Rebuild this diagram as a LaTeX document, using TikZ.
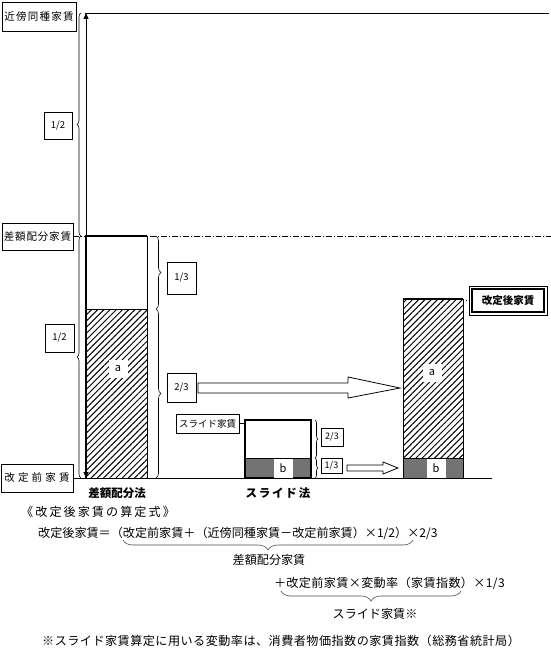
\documentclass[tikz,border=0pt]{standalone}
\usepackage{fontspec}
\setmainfont{Noto Sans CJK JP}
\usetikzlibrary{patterns.meta,decorations.pathreplacing,arrows.meta,calc}
\newcommand\lsp[2]{{\addfontfeatures{LetterSpace=#1}#2}}
\begin{document}
\begin{tikzpicture}[x=1pt,y=-1pt,
  box/.style={draw,line width=0.8pt,inner sep=0pt,font=\fontsize{10.5}{12}\selectfont},
  fr/.style={draw,line width=0.8pt,inner sep=0pt,font=\fontsize{9.5}{11}\selectfont},
  hatch/.style={pattern={Lines[angle=45,distance=4.4pt,line width=1pt]}},
  dither/.style={fill=black!55},
  lab/.style={fill=white,inner sep=0pt,minimum width=19pt,minimum height=18pt,font=\fontsize{11}{12}\selectfont},
  brc/.style={decorate,decoration={brace,amplitude=#1},line width=0.6pt},
  brc/.default=5pt,
  txt/.style={font=\fontsize{12.1}{14}\selectfont,inner sep=0pt},
  bold/.style={font=\fontsize{11.5}{13}\selectfont\bfseries,inner sep=0pt},
  hollow/.style={draw,line width=0.8pt,fill=white},
]
\useasboundingbox (0,0) rectangle (551,650);
\fill[white] (0,0) rectangle (551,650);

% left labels
\node[box,minimum width=74pt,minimum height=29pt] (kinbo) at (39,16.5) {\lsp{12}{近傍同種家賃}};
\node[box,minimum width=71pt,minimum height=27pt] (sagaku) at (37.5,236.5) {\lsp{8}{差額配分家賃}};
\node[box,minimum width=72pt,minimum height=28pt] (kaitei) at (37,478) {\lsp{30}{改定前家賃}};

% reference lines
\coordinate (tl) at (85,13);
\coordinate (tr) at (549,13);
\draw[line width=0.8pt] (tl) -- (tr);
\coordinate (dr) at (551,236.5);
\draw[line width=0.6pt,dash pattern=on 6pt off 2pt on 1pt off 2pt] (sagaku.east) -- (dr);
\coordinate (br) at (492,478);
\draw[line width=0.8pt] (kaitei.east) -- (br);

% vertical double arrow
\coordinate (vt) at (86,13);
\coordinate (vb) at (86,478);
\draw[line width=0.8pt,{Triangle[length=6pt,width=5pt]}-{Triangle[length=6pt,width=5pt]}] (vt) -- (vb);

% left braces and 1/2 boxes
\draw[brc=4pt] (81,236) -- (81,13);
\draw[brc=4pt] (81,478) -- (81,236);
\node[fr,minimum width=28pt,minimum height=27pt] (h1) at (58,125.5) {1/2};
\node[fr,minimum width=29pt,minimum height=28pt] (h2) at (59.5,338) {1/2};

% bar 1 (差額配分法)
\draw[line width=0.8pt,hatch] (86,309) rectangle (147,478);
\draw[line width=0.8pt] (86,236) rectangle (147,309);
\draw[line width=2pt] (86,478) -- (86,236) -- (147,236);
\node[lab] (a1) at (118,369) {a};

% braces right of bar 1
\draw[brc=5pt] (156,236) -- (156,309);
\draw[brc=5pt] (156,309) -- (156,478);
\node[fr,minimum width=29pt,minimum height=32pt] (t1) at (181.5,278) {1/3};
\node[fr,minimum width=29pt,minimum height=29pt] (t2) at (181.5,387.5) {2/3};

% big hollow arrow
\coordinate (A1s) at (198,388);
\coordinate (A1e) at (400,388);
\draw[hollow] ($(A1s)+(0,-5)$) -- ($(A1e)+(-52,-5)$) -- ($(A1e)+(-52,-11)$) -- (A1e)
  -- ($(A1e)+(-52,10)$) -- ($(A1e)+(-52,5)$) -- ($(A1s)+(0,5)$) -- cycle;

% bar 2 (スライド法)
\draw[dither] (245,458) rectangle (311,478);
\draw[line width=0.8pt] (245,458) -- (311,458);
\draw[line width=1.6pt] (245,478) rectangle (311,420);
\node[lab,minimum height=19pt,minimum width=19pt] (b2) at (283,468) {b};
\node[box,minimum width=63pt,minimum height=19pt,font=\fontsize{9.5}{11}\selectfont] (slide) at (207.5,423.5) {スライド家賃};
\coordinate (b2l) at (245,423.5);
\draw[line width=0.8pt] (slide.east) -- (b2l);

% braces right of bar 2
\draw[brc=3pt] (315,420) -- (315,458);
\draw[brc=3pt] (315,458) -- (315,478);
\node[fr,minimum width=22pt,minimum height=18pt,font=\fontsize{9}{10}\selectfont] (t3) at (332,437) {2/3};
\node[fr,minimum width=21pt,minimum height=15pt,font=\fontsize{9}{10}\selectfont] (t4) at (331.5,466) {1/3};

% small hollow arrow
\coordinate (A2s) at (347,468);
\coordinate (A2e) at (398,468);
\draw[hollow] ($(A2s)+(0,-3)$) -- ($(A2e)+(-15,-3)$) -- ($(A2e)+(-15,-6)$) -- (A2e)
  -- ($(A2e)+(-15,6)$) -- ($(A2e)+(-15,3)$) -- ($(A2s)+(0,3)$) -- cycle;

% bar 3 (result)
\draw[line width=0.8pt,hatch] (403,299) rectangle (463,458);
\draw[dither] (403,458) rectangle (463,478);
\draw[line width=0.8pt] (403,299) rectangle (463,478);
\draw[line width=1.6pt] (403,299) -- (463,299);
\node[lab] (a3) at (432,373) {a};
\node[lab,minimum height=19pt,minimum width=19pt] (b3) at (436,468) {b};

\node[inner sep=0pt,minimum width=78pt,minimum height=29pt,font=\fontsize{10.5}{12}\selectfont\bfseries] (after) at (508,300.5) {改定後家賃};
\draw[line width=0.6pt] (after.north west) rectangle (after.south east);
\draw[line width=1.6pt] ([shift={(3,3)}]after.north west) rectangle ([shift={(-3,-3)}]after.south east);
\coordinate (b3r) at (463,300.5);
\draw[line width=0.8pt,dotted] (b3r) -- (after.west);

% bottom labels
\node[bold] (lab1) at (117,493) {差額配分法};
\node[bold] (lab2) at (278,493) {\lsp{15}{スライド}\hspace{2pt}法};
\node[txt,anchor=west] (title) at (21,512) {\lsp{17}{《改定後家賃の算定式》}};

\node[txt,anchor=west] (f1) at (38,533) {改定後家賃＝（改定前家賃＋（近傍同種家賃－改定前家賃）×1/2）×2/3};
\draw[brc=10pt,black!70] (413,540) -- (123,540);
\node[txt] (sg) at (269,560) {差額配分家賃};

\node[txt,anchor=east] (f2) at (505,583) {\lsp{3}{＋改定前家賃×変動率（家賃指数）×1/3}};
\draw[brc=10pt,black!70] (461,591) -- (281,591);
\node[txt] (sl) at (375,614) {スライド家賃※};

\node[txt,anchor=west] (fn) at (42,641) {\lsp{4}{※スライド家賃算定に用いる変動率は、消費者物価指数の家賃指数（総務省統計局）}};
\end{tikzpicture}
\end{document}
